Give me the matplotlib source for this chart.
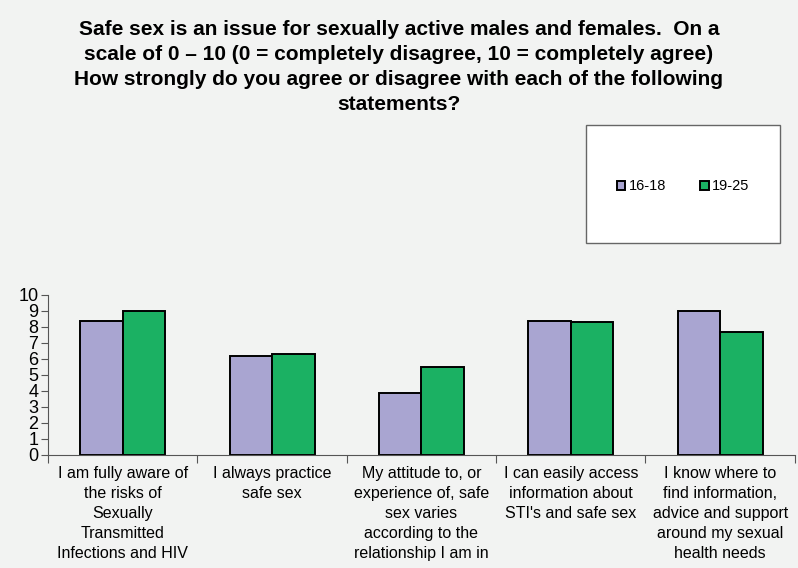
import matplotlib.pyplot as plt
import numpy as np
from matplotlib import font_manager

statements = [
    "I am fully aware of\nthe risks of\nSexually\nTransmitted\nInfections and HIV",
    "I always practice\nsafe sex",
    "My attitude to, or\nexperience of, safe\nsex varies\naccording to the\nrelationship I am in",
    "I can easily access\ninformation about\nSTI's and safe sex",
    "I know where to\nfind information,\nadvice and support\naround my sexual\nhealth needs",
]
age_16_18 = [8.4, 6.2, 3.9, 8.4, 9.0]
age_19_25 = [9.0, 6.3, 5.5, 8.3, 7.7]
y_ticks = list(range(0, 11))

title = ("Safe sex is an issue for sexually active males and females.  On a\n"
         "scale of 0 \u2013 10 (0 = completely disagree, 10 = completely agree)\n"
         "How strongly do you agree or disagree with each of the following\n"
         "statements?")

names = {f.name for f in font_manager.fontManager.ttflist}
narrow = 'Liberation Sans Narrow' if 'Liberation Sans Narrow' in names else 'Liberation Sans'

bg = '#f2f3f2'
fig = plt.figure(figsize=(7.98, 5.68), dpi=100, facecolor=bg)
ax = fig.add_axes([0.0602, 0.199, 0.9358, 0.2817], facecolor=bg)

x = np.arange(len(statements))
w = 0.285
b1 = ax.bar(x - w / 2, age_16_18, w, color='#a9a5d1', edgecolor='black', linewidth=1.4, label='16-18')
b2 = ax.bar(x + w / 2, age_19_25, w, color='#1bb163', edgecolor='black', linewidth=1.4, label='19-25')

ax.set_xlim(-0.5, len(statements) - 0.5)
ax.set_ylim(0, 10)
ax.set_yticks(y_ticks)
ax.set_yticklabels([str(t) for t in y_ticks], fontfamily='Liberation Sans', fontsize=13)
ax.set_xticks(np.arange(len(statements) + 1) - 0.5)
ax.set_xticklabels([])
ax.set_xticks(x, minor=True)
ax.set_xticklabels(statements, minor=True, fontfamily=narrow, fontsize=11.5,
                   linespacing=1.42, va='top')
ax.tick_params(axis='x', which='minor', length=0, pad=8)
ax.tick_params(axis='x', which='major', length=6, color='#555555')
ax.tick_params(axis='y', length=5, color='#555555', pad=2)
for s in ['top', 'right']:
    ax.spines[s].set_visible(False)
for s in ['left', 'bottom']:
    ax.spines[s].set_color('#555555')

fig.text(0.5, 0.965, title, ha='center', va='top', fontfamily='Liberation Sans',
         fontweight='bold', fontsize=15, linespacing=1.4)

leg = fig.legend(handles=[b1, b2], loc='center', bbox_to_anchor=(0.856, 0.672),
                 ncol=2, frameon=False, handlelength=0.6, handleheight=0.6,
                 handletextpad=0.25, columnspacing=2.3,
                 prop={'family': 'Liberation Sans', 'size': 10.5})
box = plt.Rectangle((586 / 798, 1 - 243 / 568), (780 - 586) / 798, (243 - 125) / 568,
                    transform=fig.transFigure, facecolor='white', edgecolor='#666666',
                    linewidth=1.0, zorder=0)
fig.patches.append(box)

fig.savefig('out.png', dpi=100, facecolor=bg)
